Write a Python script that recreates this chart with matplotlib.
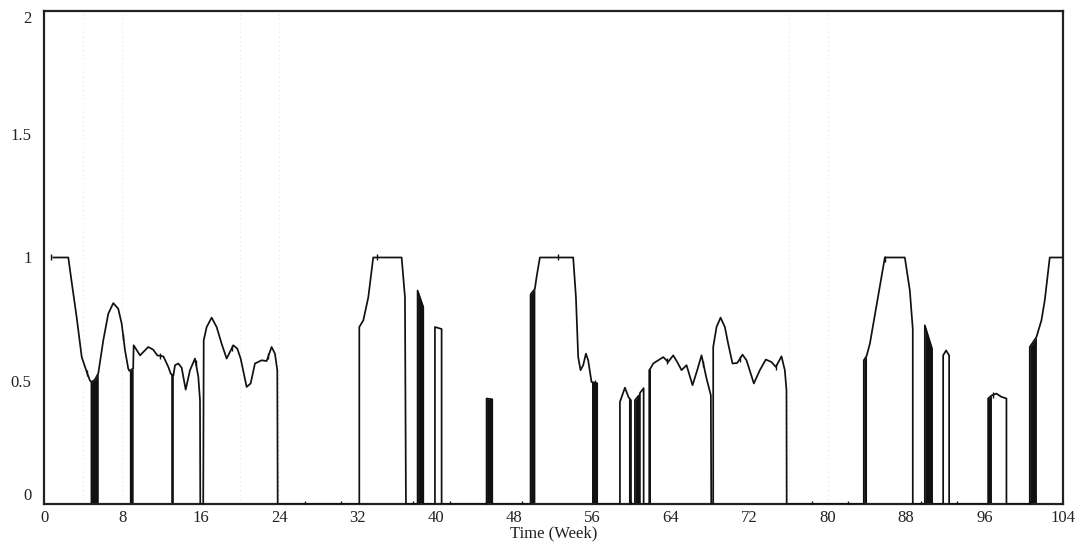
import matplotlib.pyplot as plt
import numpy as np

# ── Data ──────────────────────────────────────────────────────────────────────

week = [
    0.95, 2.48, 2.8, 3.33, 3.85, 4.42, 4.7, 4.87, 5.2, 5.54, 6.05, 6.56, 7.07,
    7.58, 7.93, 8.27, 8.6, 8.71, 9.1, 9.15, 9.8, 10.64, 11.15, 11.56, 12.18,
    12.69, 12.93, 13.2, 13.37, 13.71, 14.05, 14.46, 14.9, 15.41, 15.75, 15.92,
    15.95, 16.25, 16.3, 16.6, 17.11, 17.62, 18.13, 18.64, 19.32, 19.73, 20.07,
    20.68, 21.09, 21.53, 22.21, 22.72, 23.23, 23.57, 23.81, 23.85,
    32.18, 32.18, 32.59, 33.1, 33.6, 36.5, 36.84, 36.94,
    38.13, 38.13, 38.71, 38.71, 39.9, 39.9, 40.58, 40.58,
    45.17, 45.17, 45.75, 45.75,
    49.66, 49.66, 50.1, 50.27, 50.61, 54.01, 54.29, 54.52, 54.76, 55.03, 55.31,
    55.54, 55.88, 56.46, 56.46,
    58.78, 58.78, 59.29, 59.65, 59.9, 59.9, 60.31, 60.31, 60.7, 60.7,
    60.82, 60.82, 61.2, 61.2, 61.77, 61.77, 61.9,
    62.18, 62.69, 63.2, 63.7, 64.22, 64.63, 65.07, 65.58, 66.19, 66.67, 67.11,
    67.62, 68.06, 68.1, 68.3, 68.3, 68.64, 69.05, 69.49, 69.83, 70.27, 70.75,
    71.29, 71.7, 72.45, 73.06, 73.67, 74.25, 74.69, 75.27, 75.61, 75.78, 75.8,
    83.67, 83.67, 83.95, 84.29, 85.82, 87.86, 88.37, 88.67, 88.67,
    89.9, 89.9, 90.64, 90.64, 91.77, 91.77, 92.07, 92.38, 92.38,
    96.36, 96.36, 96.7, 97.2, 97.7, 98.23, 98.23,
    100.61, 100.61, 101.29, 101.8, 102.14, 102.65, 104.0,
]
value = [
    1.0, 1.0, 0.907, 0.758, 0.596, 0.529, 0.50, 0.495, 0.505, 0.53, 0.664, 0.772, 0.815,
    0.792, 0.731, 0.623, 0.549, 0.54, 0.55, 0.644, 0.603, 0.637, 0.626, 0.603, 0.599,
    0.556, 0.529, 0.52, 0.563, 0.57, 0.553, 0.464, 0.543, 0.59, 0.516, 0.421,
    0.0, 0.0, 0.664, 0.718, 0.756, 0.718, 0.65, 0.59, 0.644, 0.63, 0.59,
    0.475, 0.489, 0.57, 0.583, 0.58, 0.637, 0.61, 0.543, 0.0,
    0.0, 0.718, 0.745, 0.839, 1.0, 1.0, 0.839, 0.0,
    0.0, 0.866, 0.799, 0.0, 0.0, 0.718, 0.71, 0.0,
    0.0, 0.428, 0.425, 0.0,
    0.0, 0.85, 0.873, 0.92, 1.0, 1.0, 0.839, 0.596, 0.543, 0.563, 0.61,
    0.583, 0.495, 0.49, 0.0,
    0.0, 0.414, 0.472, 0.434, 0.421, 0.0, 0.0, 0.421, 0.44, 0.0,
    0.0, 0.45, 0.47, 0.0, 0.0, 0.543, 0.55,
    0.57, 0.583, 0.596, 0.576, 0.603, 0.576, 0.543, 0.563, 0.482, 0.543, 0.603,
    0.509, 0.441, 0.0, 0.0, 0.637, 0.718, 0.756, 0.718, 0.65, 0.57, 0.572,
    0.606, 0.583, 0.489, 0.543, 0.586, 0.576, 0.556, 0.599, 0.543, 0.462, 0.0,
    0.0, 0.583, 0.60, 0.65, 1.0, 1.0, 0.866, 0.71, 0.0,
    0.0, 0.725, 0.63, 0.0, 0.0, 0.603, 0.623, 0.603, 0.0,
    0.0, 0.428, 0.44, 0.448, 0.435, 0.428, 0.0,
    0.0, 0.637, 0.677, 0.745, 0.826, 1.0, 1.0,
]

# stretches where the series flickers on/off so fast it prints solid black
dense_start = [4.7, 8.71, 12.93, 38.13, 45.17, 49.66, 55.88, 59.65, 60.31, 61.77, 83.67, 89.9, 96.36, 100.61]
dense_end   = [5.54, 9.1, 13.2, 38.71, 45.75, 50.1, 56.46, 59.9, 60.7, 61.9, 83.95, 90.64, 96.7, 101.29]

# line-number markers along the curve
marker_weeks = [0.7, 4.4, 8.1, 11.8, 15.5, 19.2, 22.9, 26.6, 30.3, 34.0, 37.7, 41.4, 45.1, 48.8,
                52.5, 56.2, 59.9, 63.6, 67.3, 71.0, 74.7, 78.4, 82.1, 85.8, 89.5, 93.2, 96.9, 100.6]

# faint dotted grid traces visible on the scan
faint_grid_weeks = [4, 8, 20, 24, 76, 80]

x_ticks = list(range(0, 105, 8))
y_ticks = [0, 0.5, 1, 1.5, 2]
y_tick_labels = ["0", "0.5", "1", "1.5", "2"]

# ── Figure ────────────────────────────────────────────────────────────────────

t = np.array(week)
y = np.array(value)

plt.rcParams["font.family"] = ["Liberation Serif", "DejaVu Serif"]

fig = plt.figure(figsize=(10.76, 5.46), dpi=100)
ax = fig.add_axes([0.0409, 0.0769, 0.947, 0.903])

for gx in faint_grid_weeks:
    ax.axvline(gx, color="#e6e6e6", lw=0.8, ls=(0, (1, 3)), zorder=0)

for s, e in zip(dense_start, dense_end):
    m = (t >= s) & (t <= e)
    ax.fill_between(t[m], 0, y[m], color="#111111", lw=0, zorder=2)

ax.plot(t, y, color="#111111", lw=1.25, zorder=3)

mx = np.array(marker_weeks)
my = np.interp(mx, t, y)
ax.plot(mx, my, ls="none", marker="|", ms=5, mew=1.0, color="#111111", zorder=4)

ax.set_xlim(0, 104)
ax.set_ylim(0, 2)
ax.set_xticks(x_ticks)
ax.set_xticklabels([str(v) for v in x_ticks], fontsize=12)
ax.set_yticks(y_ticks)
ax.set_yticklabels(y_tick_labels, fontsize=12)
ax.tick_params(axis="both", length=0, colors="#222222")
ax.tick_params(axis="y", pad=9)
ax.tick_params(axis="x", pad=4)

ylabels = ax.get_yticklabels()
ylabels[0].set_verticalalignment("bottom")
ylabels[-1].set_verticalalignment("top")

ax.set_xlabel("Time (Week)", fontsize=12, color="#222222", labelpad=0)

for sp in ax.spines.values():
    sp.set_linewidth(1.6)
    sp.set_color("#222222")

fig.savefig("out.png", dpi=100)
